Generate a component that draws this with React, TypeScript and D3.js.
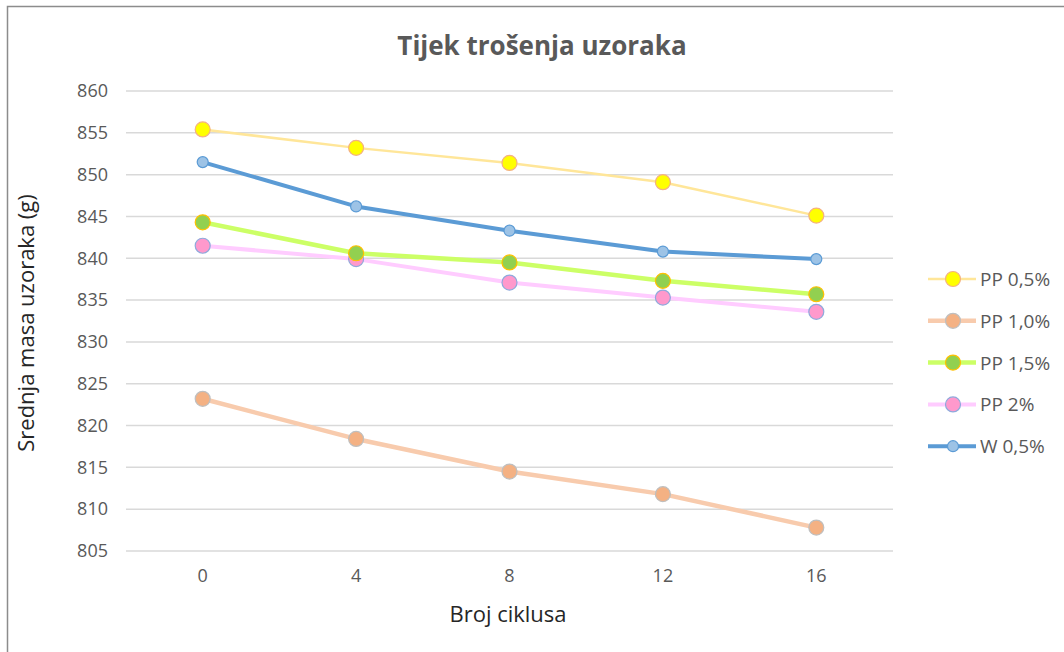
import { useEffect, useRef } from "react";
import * as d3 from "d3";

const cycles = [0, 4, 8, 12, 16];
const pp05 = [855.4, 853.2, 851.4, 849.1, 845.1];
const pp10 = [823.2, 818.4, 814.5, 811.8, 807.8];
const pp15 = [844.3, 840.6, 839.5, 837.3, 835.7];
const pp2 = [841.5, 839.9, 837.1, 835.3, 833.6];
const w05 = [851.5, 846.2, 843.3, 840.8, 839.9];
const yTicks = [805, 810, 815, 820, 825, 830, 835, 840, 845, 850, 855, 860];

const series = [
  { name: "PP 0,5%", values: pp05, line: "#FFE699", width: 2.5, fill: "#FFFF00", stroke: "#F4B183", r: 7.5 },
  { name: "PP 1,0%", values: pp10, line: "#F8CBAD", width: 4.5, fill: "#F4B183", stroke: "#BFBFBF", r: 7.5 },
  { name: "PP 1,5%", values: pp15, line: "#CCFF66", width: 4.5, fill: "#92D050", stroke: "#FFC000", r: 7.5 },
  { name: "PP 2%", values: pp2, line: "#FFCCFF", width: 4, fill: "#FF99CC", stroke: "#8FAADC", r: 7.5 },
  { name: "W 0,5%", values: w05, line: "#5B9BD5", width: 4, fill: "#9DC3E6", stroke: "#5B9BD5", r: 5.5 },
];

export default function App() {
  const ref = useRef<SVGSVGElement>(null);

  useEffect(() => {
    const svg = d3.select(ref.current);
    svg.selectAll("*").remove();
    const font = "'Open Sans', sans-serif";
    const textColor = "#595959";

    // frame (only left and top edges are visible)
    svg
      .append("path")
      .attr("d", "M7.5,652 V6.5 H1064")
      .attr("fill", "none")
      .attr("stroke", "#8c8c8c")
      .attr("stroke-width", 1.5);

    const left = 126;
    const right = 893;
    const top = 91;
    const bottom = 551;

    const x = d3
      .scaleBand<number>()
      .domain(cycles)
      .range([left, right]);
    const y = d3.scaleLinear().domain([805, 860]).range([bottom, top]);

    svg
      .append("text")
      .text("Tijek trošenja uzoraka")
      .attr("x", 542)
      .attr("y", 55)
      .attr("text-anchor", "middle")
      .attr("font-family", font)
      .attr("font-weight", "bold")
      .attr("font-size", 26)
      .attr("fill", textColor);

    // gridlines
    svg
      .append("g")
      .selectAll("line")
      .data(yTicks)
      .join("line")
      .attr("x1", left)
      .attr("x2", right)
      .attr("y1", (d) => y(d))
      .attr("y2", (d) => y(d))
      .attr("stroke", "#d9d9d9")
      .attr("stroke-width", 1.5);

    const yAxis = svg
      .append("g")
      .attr("transform", `translate(${left - 18},0)`)
      .call(d3.axisLeft(y).tickValues(yTicks).tickSize(0).tickPadding(0));
    yAxis.select(".domain").remove();
    yAxis
      .selectAll("text")
      .attr("font-family", font)
      .attr("font-size", 18)
      .attr("fill", textColor);

    const xAxis = svg
      .append("g")
      .attr("transform", `translate(0,${bottom + 10})`)
      .call(d3.axisBottom(x).tickSize(0).tickPadding(8));
    xAxis.select(".domain").remove();
    xAxis
      .selectAll("text")
      .attr("font-family", font)
      .attr("font-size", 18)
      .attr("fill", textColor);

    svg
      .append("text")
      .text("Broj ciklusa")
      .attr("x", 508)
      .attr("y", 622)
      .attr("text-anchor", "middle")
      .attr("font-family", font)
      .attr("font-size", 22)
      .attr("fill", "#262626");

    svg
      .append("text")
      .text("Srednja masa uzoraka (g)")
      .attr("transform", `translate(34,323) rotate(-90)`)
      .attr("text-anchor", "middle")
      .attr("font-family", font)
      .attr("font-size", 22)
      .attr("fill", "#262626");

    const cx = (i: number) => (x(cycles[i]) as number) + x.bandwidth() / 2;
    const line = d3
      .line<number>()
      .x((_, i) => cx(i))
      .y((d) => y(d));

    const drawOrder = [0, 1, 3, 2, 4];
    drawOrder.forEach((k) => {
      const s = series[k];
      const g = svg.append("g");
      g.append("path")
        .attr("d", line(s.values))
        .attr("fill", "none")
        .attr("stroke", s.line)
        .attr("stroke-width", s.width)
        .attr("stroke-linejoin", "round");
      g.selectAll("circle")
        .data(s.values)
        .join("circle")
        .attr("cx", (_, i) => cx(i))
        .attr("cy", (d) => y(d))
        .attr("r", s.r)
        .attr("fill", s.fill)
        .attr("stroke", s.stroke)
        .attr("stroke-width", 1.2);
    });

    // legend
    const legend = svg.append("g").attr("transform", "translate(928,279)");
    series.forEach((s, i) => {
      const row = legend.append("g").attr("transform", `translate(0,${i * 41.8})`);
      row
        .append("line")
        .attr("x1", 0)
        .attr("x2", 48)
        .attr("stroke", s.line)
        .attr("stroke-width", s.width);
      row
        .append("circle")
        .attr("cx", 25)
        .attr("r", s.r)
        .attr("fill", s.fill)
        .attr("stroke", s.stroke)
        .attr("stroke-width", 1.2);
      row
        .append("text")
        .text(s.name)
        .attr("x", 52)
        .attr("y", 7)
        .attr("font-family", font)
        .attr("font-size", 19)
        .attr("fill", textColor);
    });
  }, []);

  return (
    <svg
      ref={ref}
      width={1064}
      height={652}
      style={{ position: "absolute", left: 0, top: 0, background: "#fff" }}
    ></svg>
  );
}
